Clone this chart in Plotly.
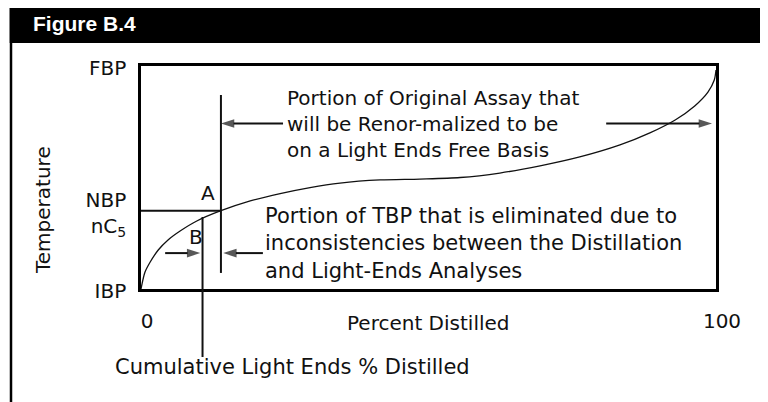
import plotly.graph_objects as go

# Distillation curve (box scaled 0-100 on both axes)
pct_distilled = [0, 0.7, 1.6, 3.0, 4.7, 6.8, 9.7, 13.9, 19.0, 24.2, 29.4, 34.6, 41.6,
                 48.5, 55.5, 62.4, 69.4, 76.3, 83.3, 88.5, 92.9, 96.3, 98.6, 99.7, 100]
temperature = [0, 7.6, 12.1, 17.5, 22.0, 26.0, 30.5, 35.1, 39.5, 42.8, 45.5, 47.5, 48.9,
               49.3, 50.0, 52.0, 55.2, 59.2, 64.6, 70.0, 75.8, 82.1, 88.3, 93.7, 98.2]

pct_ticks = [0, 100]
pct_labels = ['0', '100']
temp_ticks = [0, 35.1, 100]
temp_labels = ['IBP', 'NBP<br>nC<sub>5</sub>', 'FBP']

nbp_temp = 35.1          # NBP of nC5
a_pct = 13.9             # point A (curve meets NBP line)
b_pct = 10.7             # point B (cumulative light ends % distilled)
a_line_temp = [7.2, 87.0]
b_line_top = 32.3

upper_arrow_temp = 74.2
upper_left_arrow = [24.7, 13.9]    # tail, tip
upper_right_arrow = [80.9, 99.3]
lower_arrow_temp = 16.1
lower_left_arrow = [4.2, 10.3]
lower_right_arrow = [21.2, 14.3]

# pixel layout (measured on the 768x402 page; the page body adds an 8px margin)
OFF = 8
W, H = 768 - OFF, 402 - OFF
BOX_L, BOX_R, BOX_T, BOX_B = 141, 716, 66, 289
FONT = 'DejaVu Sans'
INK = '#111111'


def px(x):
    return (x - BOX_L) / (BOX_R - BOX_L)


def py(y):
    return (BOX_B - y) / (BOX_B - BOX_T)


fig = go.Figure()

# TBP curve
fig.add_trace(go.Scatter(
    x=pct_distilled, y=temperature, mode='lines',
    line=dict(color=INK, width=1.3, shape='spline', smoothing=0.8),
    hoverinfo='skip'
))

# NBP horizontal line up to A
fig.add_trace(go.Scatter(
    x=[0, a_pct], y=[nbp_temp, nbp_temp], mode='lines',
    line=dict(color=INK, width=2), hoverinfo='skip'
))

# A vertical line
fig.add_trace(go.Scatter(
    x=[a_pct, a_pct], y=a_line_temp, mode='lines',
    line=dict(color=INK, width=2), hoverinfo='skip'
))

# B vertical line inside the box
fig.add_trace(go.Scatter(
    x=[b_pct, b_pct], y=[0, b_line_top], mode='lines',
    line=dict(color=INK, width=2), hoverinfo='skip'
))

# horizontal arrows
for seg, yv in [(upper_left_arrow, upper_arrow_temp), (upper_right_arrow, upper_arrow_temp),
                (lower_left_arrow, lower_arrow_temp), (lower_right_arrow, lower_arrow_temp)]:
    fig.add_trace(go.Scatter(
        x=seg, y=[yv, yv], mode='lines+markers',
        line=dict(color=INK, width=2),
        marker=dict(symbol='arrow', angleref='previous', size=[0, 14], color=INK,
                    line=dict(width=0)),
        cliponaxis=False, hoverinfo='skip'
    ))

shapes = [
    # header bar
    dict(type='rect', xref='paper', yref='paper',
         x0=px(9.5), x1=px(772), y0=py(43), y1=py(4),
         fillcolor='black', line=dict(width=0), layer='above'),
    # left frame line
    dict(type='line', xref='paper', yref='paper',
         x0=px(11), x1=px(11), y0=py(43), y1=py(410),
         line=dict(color='black', width=2.5)),
    # B leader line below the box
    dict(type='line', xref='x', yref='paper',
         x0=b_pct, x1=b_pct, y0=py(357), y1=0,
         line=dict(color=INK, width=2)),
]

text_font = dict(family=FONT, size=20, color=INK)
big_font = dict(family=FONT, size=21, color=INK)

annotations = [
    dict(x=25.0, y=upper_arrow_temp, xref='x', yref='y',
         text='Portion of Original Assay that<br>will be Renor-malized to be<br>on a Light Ends Free Basis',
         showarrow=False, xanchor='left', yanchor='middle', align='left', font=text_font),
    dict(x=21.2, y=20.6, xref='x', yref='y',
         text='Portion of TBP that is eliminated due to<br>inconsistencies between the Distillation<br>and Light-Ends Analyses',
         showarrow=False, xanchor='left', yanchor='middle', align='left', font=big_font),
    dict(x=11.6, y=43.0, xref='x', yref='y', text='A', showarrow=False, font=text_font),
    dict(x=9.6, y=23.3, xref='x', yref='y', text='B', showarrow=False, font=text_font),
    dict(x=px(113), y=py(367), xref='paper', yref='paper',
         text='Cumulative Light Ends % Distilled', showarrow=False,
         xanchor='left', yanchor='middle', font=big_font),
    dict(x=px(43), y=py(210), xref='paper', yref='paper', text='Temperature',
         textangle=-90, showarrow=False, xanchor='center', yanchor='middle', font=text_font),
    dict(x=0.5, y=py(323), xref='paper', yref='paper',
         text='Percent Distilled', showarrow=False, xanchor='center', yanchor='middle',
         font=text_font),
    dict(x=px(31), y=py(24), xref='paper', yref='paper', text='<b>Figure B.4</b>',
         showarrow=False, xanchor='left', yanchor='middle',
         font=dict(family='Liberation Sans', size=21, color='white')),
]

fig.update_layout(
    width=W, height=H,
    margin=dict(l=BOX_L - OFF, r=W - (BOX_R - OFF), t=BOX_T - OFF, b=H - (BOX_B - OFF), pad=0),
    paper_bgcolor='white', plot_bgcolor='white',
    showlegend=False,
    shapes=shapes,
    annotations=annotations,
    font=dict(family=FONT, size=20, color=INK),
    xaxis=dict(
        range=[0, 100], tickvals=pct_ticks, ticktext=pct_labels,
        showgrid=False, zeroline=False, ticks='',
        showline=True, linecolor='black', linewidth=2.5, mirror=True,
        ticklabelstandoff=12, ticklabelshift=6,
        tickfont=text_font, fixedrange=True
    ),
    yaxis=dict(
        range=[0, 100], tickvals=temp_ticks, ticktext=temp_labels,
        showgrid=False, zeroline=False, ticks='',
        showline=True, linecolor='black', linewidth=2.5, mirror=True,
        ticklabelstandoff=8, ticklabelshift=2,
        tickfont=text_font, fixedrange=True
    ),
)

fig.write_html("out.html")
